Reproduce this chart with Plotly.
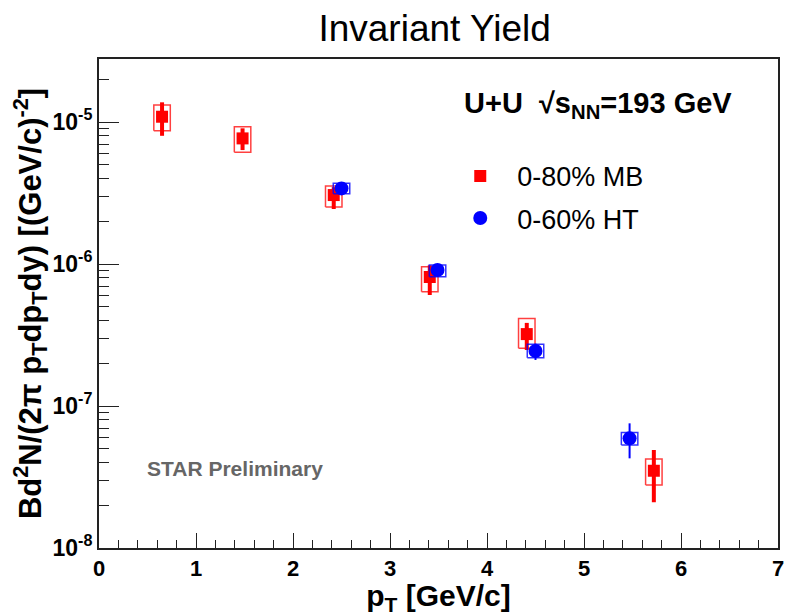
import plotly.graph_objects as go

# 0-80% minimum-bias (MB) spectrum
mb_pt = [0.65, 1.48, 2.42, 3.41, 4.41, 5.72]
mb_yield = [1.09e-5, 7.67e-6, 3.06e-6, 8.1e-7, 3.21e-7, 3.5e-8]
mb_stat_hi = [1.377e-5, 9.03e-6, 3.48e-6, 9.8e-7, 3.85e-7, 4.9e-8]
mb_stat_lo = [8.0e-6, 6.35e-6, 2.44e-6, 6.05e-7, 2.48e-7, 2.1e-8]
mb_sys_hi = [1.318e-5, 9.27e-6, 3.55e-6, 9.57e-7, 4.14e-7, 4.24e-8]
mb_sys_lo = [8.68e-6, 6.12e-6, 2.52e-6, 6.38e-7, 2.55e-7, 2.78e-8]

# 0-60% high-tower (HT) spectrum
ht_pt = [2.50, 3.49, 4.50, 5.47]
ht_yield = [3.41e-6, 9.08e-7, 2.44e-7, 5.92e-8]
ht_stat_hi = [3.62e-6, 9.9e-7, 2.75e-7, 7.55e-8]
ht_stat_lo = [3.2e-6, 8.3e-7, 2.11e-7, 4.28e-8]
ht_sys_hi = [3.7e-6, 9.84e-7, 2.72e-7, 6.5e-8]
ht_sys_lo = [3.12e-6, 8.14e-7, 2.19e-7, 5.31e-8]

y_tick_vals = [1e-8, 1e-7, 1e-6, 1e-5]
y_tick_text = ["10<sup>-8</sup>", "10<sup>-7</sup>", "10<sup>-6</sup>", "10<sup>-5</sup>"]

BOX_HALF_WIDTH = 0.085
FONT = "Liberation Sans, Arial, sans-serif"


def box_path(xs, lo, hi, hw):
    px, py = [], []
    for x, l, h in zip(xs, lo, hi):
        px += [x - hw, x + hw, x + hw, x - hw, x - hw, None]
        py += [l, l, h, h, l, None]
    return px, py


fig = go.Figure()

# systematic uncertainty boxes
bx, by = box_path(mb_pt, mb_sys_lo, mb_sys_hi, BOX_HALF_WIDTH)
fig.add_trace(go.Scatter(x=bx, y=by, mode="lines", showlegend=False, hoverinfo="skip",
                         line=dict(color="rgba(255,0,0,0.75)", width=1.5)))

fig.add_trace(go.Scatter(
    x=mb_pt, y=mb_yield, mode="markers", name="0-80% MB", legendgroup="mb",
    marker=dict(symbol="square", size=12, color="#ff0000"),
    error_y=dict(type="data", symmetric=False,
                 array=[h - v for h, v in zip(mb_stat_hi, mb_yield)],
                 arrayminus=[v - l for l, v in zip(mb_stat_lo, mb_yield)],
                 color="#ff0000", thickness=4, width=0),
))

bx, by = box_path(ht_pt, ht_sys_lo, ht_sys_hi, BOX_HALF_WIDTH)
fig.add_trace(go.Scatter(x=bx, y=by, mode="lines", showlegend=False, hoverinfo="skip",
                         line=dict(color="rgba(0,0,255,0.8)", width=1.5)))

fig.add_trace(go.Scatter(
    x=ht_pt, y=ht_yield, mode="markers", name="0-60% HT", legendgroup="ht",
    marker=dict(symbol="circle", size=14, color="#0000ff"),
    error_y=dict(type="data", symmetric=False,
                 array=[h - v for h, v in zip(ht_stat_hi, ht_yield)],
                 arrayminus=[v - l for l, v in zip(ht_stat_lo, ht_yield)],
                 color="#0000ff", thickness=2, width=0),
))

minor_y = [k * 10.0 ** n for n in range(-8, -4) for k in range(2, 10)]

fig.update_layout(
    width=786, height=616,
    margin=dict(l=99, r=2, t=59, b=68),
    paper_bgcolor="white", plot_bgcolor="white",
    font=dict(family=FONT, color="black"),
    title=dict(text="Invariant Yield", x=0.553, xanchor="center", y=0.955, yanchor="middle",
               font=dict(size=37, family=FONT)),
    showlegend=True,
    legend=dict(x=0.507, y=0.81, xanchor="left", yanchor="top",
                bgcolor="rgba(0,0,0,0)", font=dict(size=27, family=FONT),
                tracegroupgap=4, itemwidth=64),
    xaxis=dict(
        range=[0, 7], dtick=1, tick0=0,
        showline=True, linecolor="#222", linewidth=2, mirror=True,
        ticks="inside", ticklen=15, tickwidth=1, tickcolor="#222",
        minor=dict(dtick=0.2, ticks="inside", ticklen=8, tickcolor="#222", tickwidth=1),
        showgrid=False, zeroline=False, ticklabeloverflow="allow",
        tickfont=dict(size=22, family=FONT, weight="bold"),
        title=dict(text="p<sub>T</sub> [GeV/c]", standoff=0,
                   font=dict(size=30, family=FONT, weight="bold")),
    ),
    yaxis=dict(
        type="log", range=[-8, -4.556],
        tickvals=y_tick_vals, ticktext=y_tick_text,
        showline=True, linecolor="#222", linewidth=2, mirror=True,
        ticks="inside", ticklen=20, tickwidth=1, tickcolor="#222",
        minor=dict(tickvals=minor_y, ticks="inside", ticklen=10, tickcolor="#222", tickwidth=1),
        showgrid=False, zeroline=False, ticklabeloverflow="allow",
        tickfont=dict(size=23, family=FONT, weight="bold"),
        title=dict(text="Bd<sup>2</sup>N/(2π p<sub>T</sub>dp<sub>T</sub>dy) [(GeV/c)<sup>-2</sup>]",
                   standoff=2, font=dict(size=31, family=FONT, weight="bold")),
    ),
    annotations=[
        dict(text="U+U  √s<sub>NN</sub>=193 GeV", xref="paper", yref="paper",
             x=0.535, y=0.905, xanchor="left", yanchor="middle", showarrow=False,
             font=dict(size=29, family=FONT, weight="bold")),
        dict(text="STAR Preliminary", xref="paper", yref="paper",
             x=0.20, y=0.162, xanchor="center", yanchor="middle", showarrow=False,
             font=dict(size=21, family=FONT, weight="bold", color="#666")),
    ],
)

fig.write_html("out.html")
